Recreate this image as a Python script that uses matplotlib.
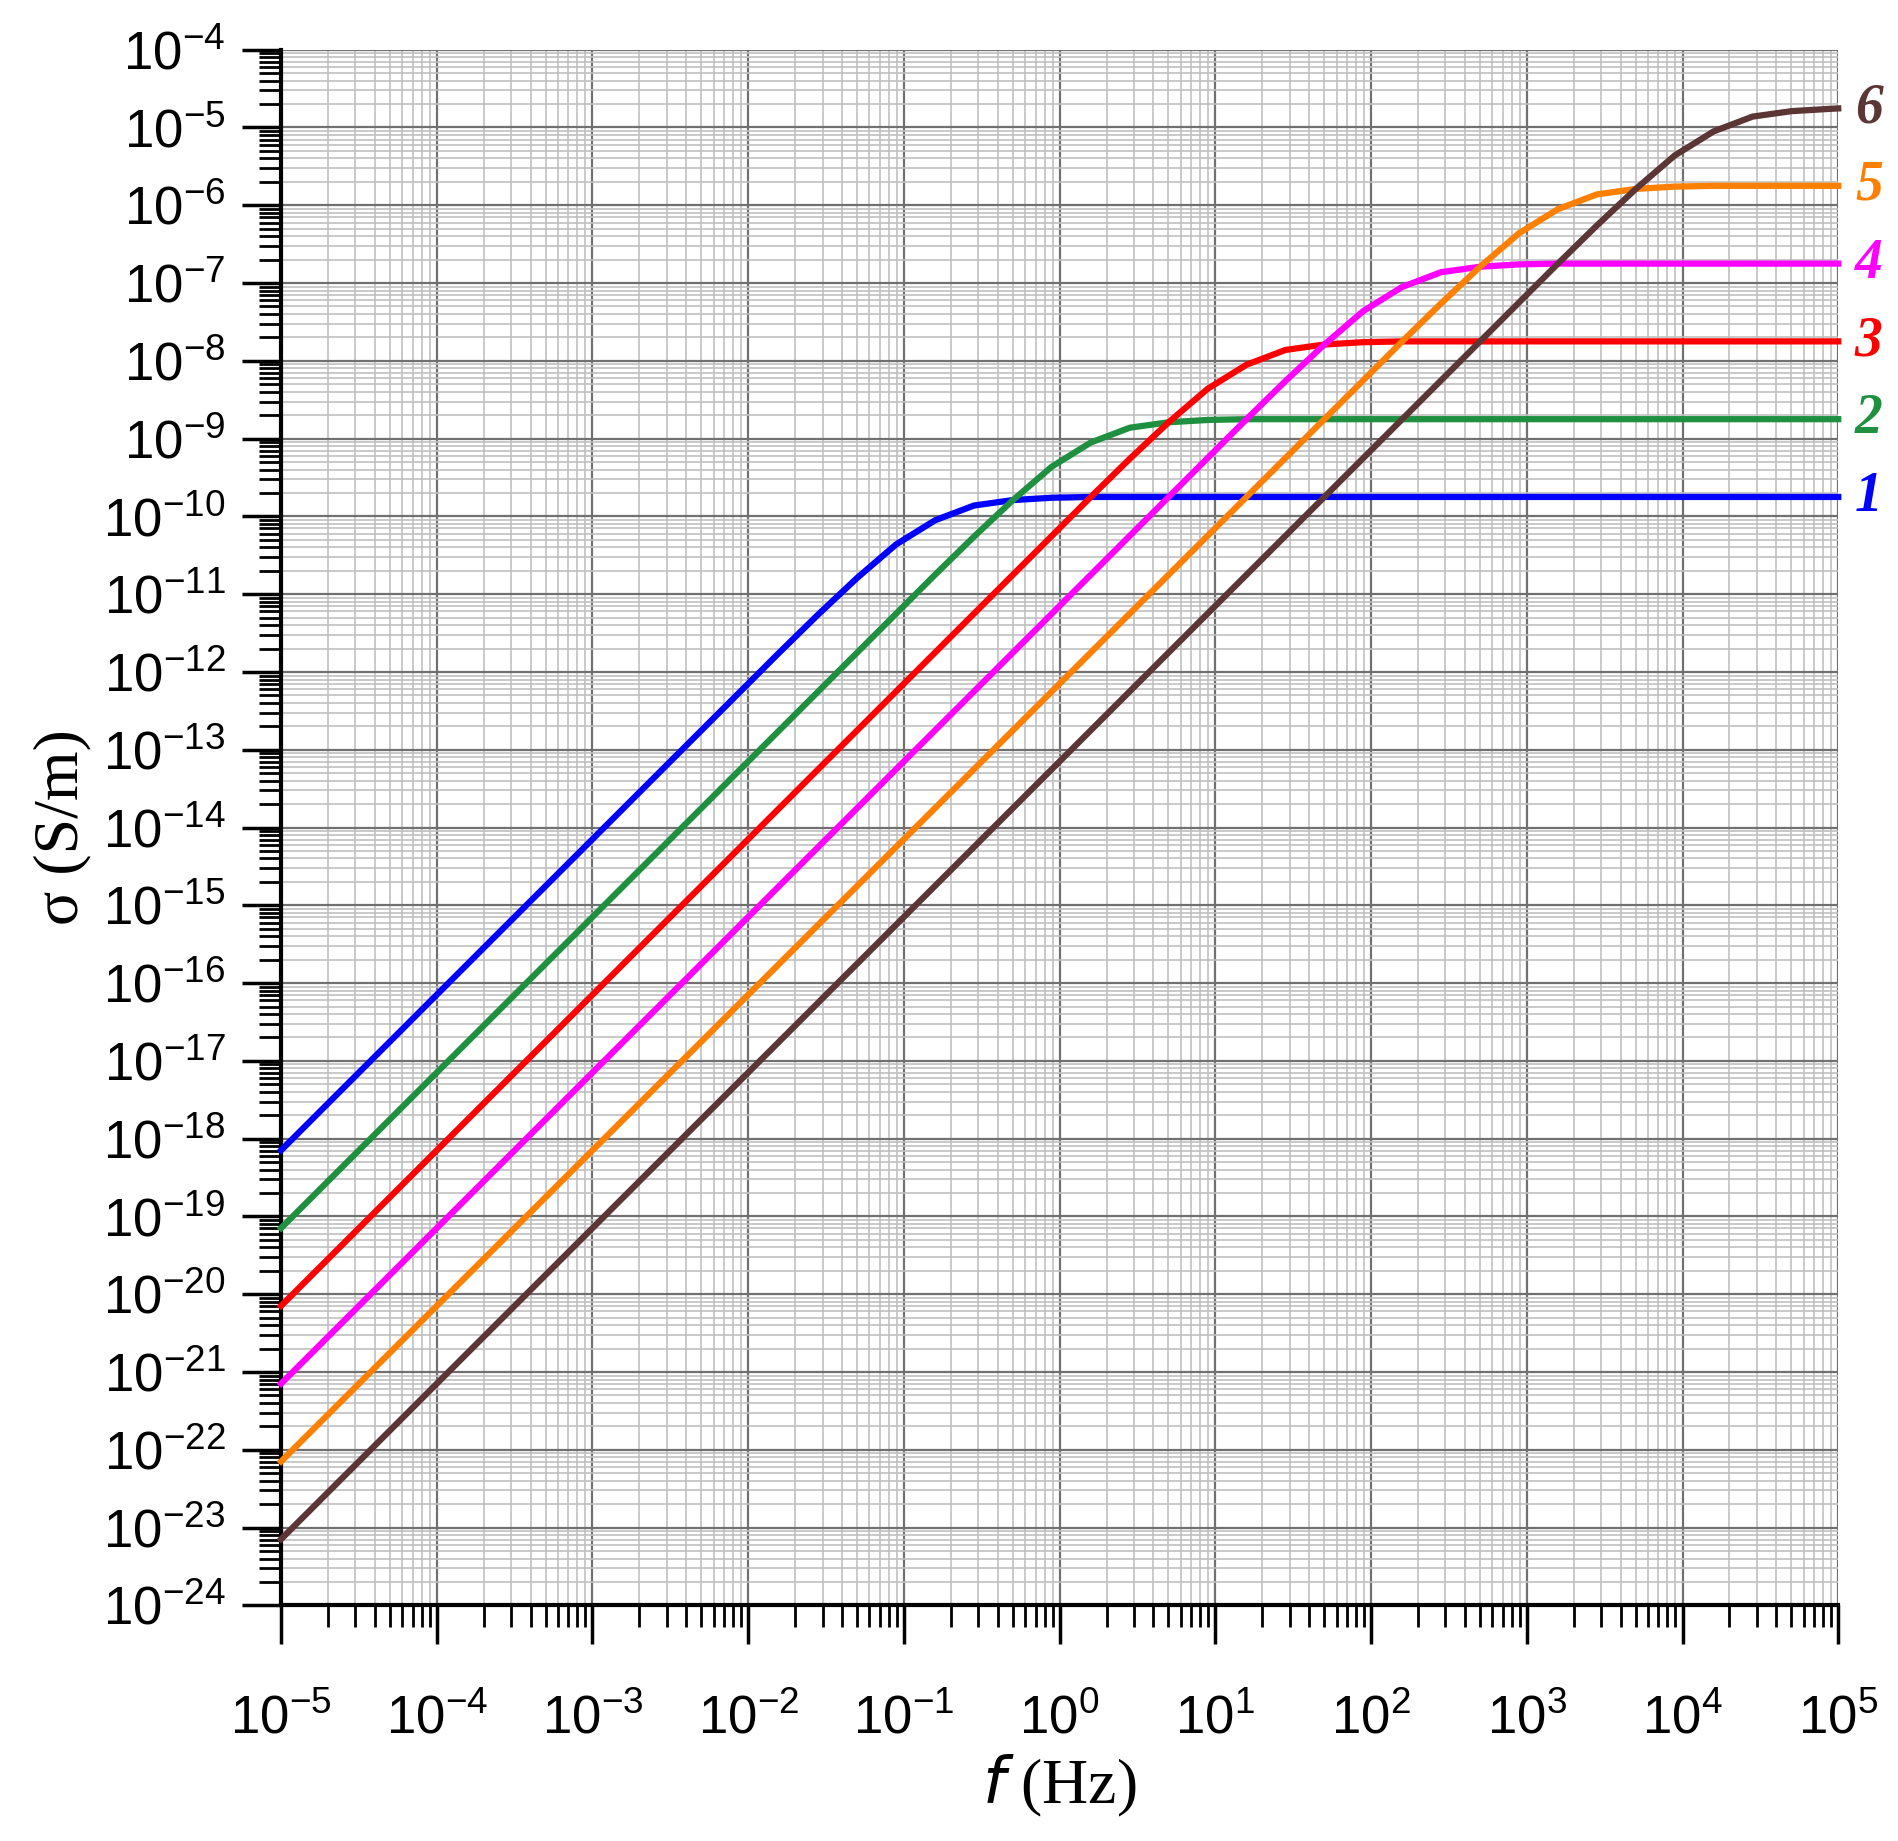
import matplotlib
matplotlib.use("Agg")
import matplotlib.pyplot as plt
import numpy as np

plt.rcParams['font.family'] = ['Liberation Sans', 'DejaVu Sans']
plt.rcParams['axes.unicode_minus'] = False

# log10(f) and log10(sigma) for each curve
logf1 = [-5, -1.80, -1.55, -1.30, -1.05, -0.80, -0.55, -0.30, -0.05, 0.20, 5]
logs1 = [-18.15, -11.75, -11.26, -10.79, -10.36, -10.05, -9.86, -9.79, -9.76, -9.75, -9.75]
logf2 = [-5, -0.80, -0.55, -0.30, -0.05, 0.20, 0.45, 0.70, 0.95, 1.20, 5]
logs2 = [-19.15, -10.75, -10.26, -9.79, -9.36, -9.05, -8.86, -8.79, -8.76, -8.75, -8.75]
logf3 = [-5, 0.20, 0.45, 0.70, 0.95, 1.20, 1.45, 1.70, 1.95, 2.20, 5]
logs3 = [-20.15, -9.75, -9.26, -8.79, -8.36, -8.05, -7.86, -7.79, -7.76, -7.75, -7.75]
logf4 = [-5, 1.20, 1.45, 1.70, 1.95, 2.20, 2.45, 2.70, 2.95, 3.20, 5]
logs4 = [-21.15, -8.75, -8.26, -7.79, -7.36, -7.05, -6.86, -6.79, -6.76, -6.75, -6.75]
logf5 = [-5, 2.20, 2.45, 2.70, 2.95, 3.20, 3.45, 3.70, 3.95, 4.20, 5]
logs5 = [-22.15, -7.75, -7.26, -6.79, -6.36, -6.05, -5.86, -5.79, -5.76, -5.75, -5.75]
logf6 = [-5, 3.20, 3.45, 3.70, 3.95, 4.20, 4.45, 4.70, 4.95, 5]
logs6 = [-23.15, -6.75, -6.26, -5.79, -5.36, -5.05, -4.86, -4.79, -4.76, -4.755]

curve_labels = ['1', '2', '3', '4', '5', '6']
colors = ['#0000FF', '#1E9040', '#FF0000', '#FF00FF', '#FF7F00', '#5C3535']

serif = ['Liberation Serif', 'DejaVu Serif']

fig = plt.figure(figsize=(18.99, 18.41), dpi=100)
ax = fig.add_axes([0.148, 0.128, 0.820, 0.845])

series = [(logf1, logs1), (logf2, logs2), (logf3, logs3), (logf4, logs4), (logf5, logs5), (logf6, logs6)]
for (lf, ls), c, lab in zip(series, colors, curve_labels):
    f = 10.0 ** np.array(lf)
    s = 10.0 ** np.array(ls)
    ax.plot(f, s, color=c, lw=4.5, zorder=3, clip_on=False, solid_joinstyle='round')
    ax.annotate(lab, (f[-1], s[-1]), xytext=(12, 0), textcoords='offset points',
                color=c, fontsize=40, fontweight='bold', fontstyle='italic', va='center', ha='left',
                family=serif, annotation_clip=False)

ax.set_xscale('log')
ax.set_yscale('log')
ax.set_xlim(1e-5, 1e5)
ax.set_ylim(1e-24, 1e-4)
ax.xaxis.set_major_locator(matplotlib.ticker.LogLocator(base=10, numticks=20))
ax.xaxis.set_minor_locator(matplotlib.ticker.LogLocator(base=10, subs=np.arange(2, 10), numticks=200))
ax.yaxis.set_major_locator(matplotlib.ticker.LogLocator(base=10, numticks=30))
ax.yaxis.set_minor_locator(matplotlib.ticker.LogLocator(base=10, subs=np.arange(2, 10), numticks=300))
ax.xaxis.set_minor_formatter(matplotlib.ticker.NullFormatter())
ax.yaxis.set_minor_formatter(matplotlib.ticker.NullFormatter())

ax.grid(True, which='major', color='#707070', lw=1.6)
ax.grid(True, which='minor', color='#C0C0C0', lw=1.2)
ax.set_axisbelow(True)
for sp in ['top', 'right']:
    ax.spines[sp].set_visible(False)
for sp in ['left', 'bottom']:
    ax.spines[sp].set_linewidth(3)

ax.tick_params(which='major', direction='out', length=28, width=2.5, labelsize=38)
ax.tick_params(axis='x', which='major', pad=36)
ax.tick_params(axis='y', which='major', pad=12)
ax.tick_params(which='minor', direction='out', length=16, width=2)

ax.set_xlabel('$f$ (Hz)', fontsize=46, labelpad=6, family=serif)
ax.set_ylabel('σ (S/m)', fontsize=46, labelpad=8, family=serif)

fig.savefig('out.png', dpi=100)
